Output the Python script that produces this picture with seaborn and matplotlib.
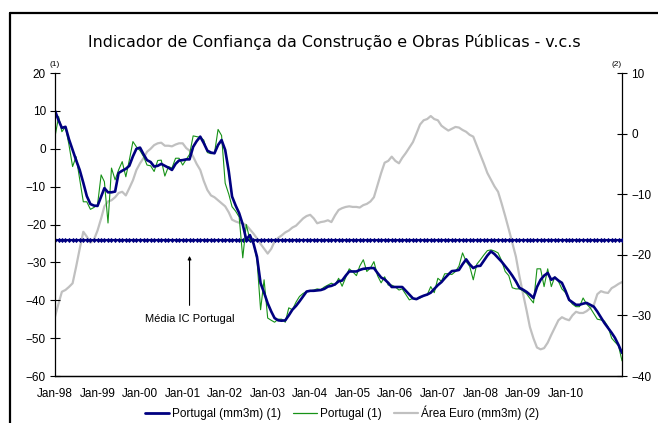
import pandas as pd
import matplotlib.pyplot as plt
from matplotlib.lines import Line2D
import seaborn as sns

sns.set_style('white')
plt.rcParams['font.family'] = ['Liberation Sans', 'DejaVu Sans']
plt.rcParams['text.color'] = 'black'

# monthly data, Jan-98 .. May-11
months = pd.date_range('1998-01-01', periods=161, freq='MS')

# Portugal (1) - raw indicator
pt_raw = [3.2, 8.5, 4.5, 5.8, 1, -4.7, -2.1, -8, -14, -14,
          -16, -15.5, -14.8, -6.9, -8.7, -19.6, -5.1, -8.2, -5.6, -3.4,
          -7.4, -3, 1.9, 0.5, -0.5, -2.1, -4.3, -4.5, -6, -3.1,
          -3, -7.2, -4.7, -5.1, -2.5, -2.5, -4.3, -2.8, -1.5, 3.4,
          3.2, 3, 2.3, -1, -1.3, -1.2, 5.1, 3.5, -9.1, -12,
          -15.3, -16.5, -18, -28.8, -20, -24, -24.9, -29.3, -42.5, -34.6,
          -44.7, -45.3, -45.8, -45, -45, -45.8, -42, -42.5, -40.5, -39,
          -38.2, -37.7, -37.5, -37.3, -37, -37.2, -36.5, -36, -35.5, -36,
          -34.2, -36.3, -34, -31.7, -32.5, -33.5, -31, -29.3, -32.4, -31.5,
          -29.8, -33.5, -35.4, -33.8, -36, -36, -36.5, -37.3, -37, -38.5,
          -39.9, -39.5, -39.7, -39.4, -38.8, -38.6, -36.4, -38, -34.2, -35,
          -33, -33, -33.2, -32.4, -31, -27.5, -29.8, -31, -34.6, -30.5,
          -29.3, -28, -26.9, -26.7, -27, -27.5, -29.5, -32.4, -33.5, -36.7,
          -37, -37, -37.5, -38.3, -39.5, -40.7, -31.7, -31.7, -36.4, -31.7,
          -36.4, -33.8, -35, -37, -38, -39.9, -41, -41.7, -41.7, -39.4,
          -41, -42, -43.5, -45, -45.2, -45.5, -47, -50, -51, -52,
          -56]

# Portugal (mm3m) (1)
pt_mm3m = [10, 7.5, 5.5, 5.8, 2.5, -0.3, -3, -5.6, -9, -12.5,
           -14.6, -15, -15.1, -12.6, -10.4, -11.5, -11.5, -11.3, -6.4, -5.8,
           -5.3, -4.5, -2, 0, 0.3, -1.5, -3, -3.5, -4.7, -4.5,
           -4, -4.5, -5, -5.6, -4, -3.1, -3, -2.8, -2.8, 0.5,
           2, 3.2, 1.5, -0.5, -1, -1.2, 1, 2.3, -0.3, -6,
           -12.6, -15, -17, -20, -24, -22.8, -25, -28.5, -35.5, -38,
           -40.8, -43, -44.7, -45.3, -45.4, -45.3, -44, -42.5, -41.5, -40.3,
           -39, -37.7, -37.5, -37.5, -37.4, -37.3, -37, -36.4, -36.2, -35.8,
           -35, -34.8, -33.5, -32.4, -32.4, -32.4, -32, -31.7, -31.6, -31.5,
           -31.5, -32.8, -34, -34.5, -35.4, -36.5, -36.5, -36.5, -36.5, -37.5,
           -38.5, -39.5, -39.7, -39.2, -38.8, -38.5, -38, -37, -36, -35.2,
           -34.2, -33.2, -32.3, -32.2, -32, -30.5, -29.2, -30.5, -31.5, -31,
           -30.9, -29.5, -28.2, -27.1, -27.8, -28.8, -29.8, -31, -32.2, -33.5,
           -35, -36.7, -37.2, -37.8, -38.5, -39.4, -36.5, -34.6, -33.5, -32.8,
           -34.6, -34, -34.8, -35.4, -37.5, -39.9, -40.5, -41.2, -41.2, -40.9,
           -40.7, -41.2, -41.7, -43, -44.5, -46, -47.3, -48.6, -49.9, -51.8,
           -53.9]

# Área Euro (mm3m) (2) - right axis
euro_mm3m = [-30.2, -28, -26.1, -25.8, -25.3, -24.7, -22, -19, -16.2, -17,
             -18, -17.5, -16, -14, -12, -11.2, -11, -10.5, -9.8, -9.6,
             -10.2, -9, -7.7, -6, -4.9, -4, -3, -2.5, -1.9, -1.6,
             -1.5, -2, -2, -2.1, -1.8, -1.6, -1.6, -2.4, -2.8, -3.8,
             -5, -6, -7.8, -9.3, -10.2, -10.5, -11, -11.5, -12, -13,
             -14.2, -14.5, -14.7, -14.8, -15.1, -15.8, -16.5, -17.3, -18.2, -19,
             -19.8, -19, -17.8, -17.2, -16.8, -16.3, -16, -15.5, -15.2, -14.6,
             -14, -13.6, -13.4, -14, -14.8, -14.6, -14.5, -14.3, -14.6, -13.5,
             -12.6, -12.3, -12.1, -12, -12.1, -12.1, -12.2, -11.8, -11.6, -11.2,
             -10.5, -8.5, -6.5, -4.8, -4.5, -3.8, -4.5, -4.9, -4, -3.2,
             -2.3, -1.4, 0, 1.5, 2.2, 2.4, 2.9, 2.4, 2.2, 1.3,
             0.9, 0.5, 0.8, 1.1, 1, 0.6, 0.3, -0.2, -0.5, -2,
             -3.5, -5, -6.5, -7.6, -8.7, -9.6, -11.5, -13.6, -15.8, -18,
             -20.3, -23.5, -26.4, -29.2, -31.9, -33.8, -35.3, -35.6, -35.4, -34.5,
             -33.2, -32, -30.8, -30.3, -30.6, -30.8, -30, -29.4, -29.6, -29.6,
             -29.3, -28.8, -28.3, -26.5, -26, -26.2, -26.3, -25.5, -25.2, -24.8,
             -24.5]

media_ic = -24.0

tick_years = list(range(1998, 2012))
tick_labels = ['Jan-%02d' % (y % 100) for y in tick_years[:-1]] + ['']

navy = '#000080'
green = '#179217'
grey = '#c0c0c0'

df = pd.DataFrame({'date': months, 'raw': pt_raw, 'mm3m': pt_mm3m,
                   'euro': euro_mm3m, 'media': media_ic})

fig = plt.figure(figsize=(6.58, 4.23), dpi=100)
ax = fig.add_axes([0.0836, 0.1111, 0.8617, 0.7163])
ax2 = ax.twinx()

sns.lineplot(data=df, x='date', y='euro', ax=ax2, color=grey, linewidth=1.6)
sns.lineplot(data=df, x='date', y='media', ax=ax, color=navy, linewidth=1.5,
             marker='D', markersize=2.6, markeredgewidth=0)
sns.lineplot(data=df, x='date', y='raw', ax=ax, color=green, linewidth=0.8)
sns.lineplot(data=df, x='date', y='mm3m', ax=ax, color=navy, linewidth=1.9)

# put the left axis on top of the grey series
ax.set_zorder(ax2.get_zorder() + 1)
ax.patch.set_visible(False)

ax.set_xlim(months[0], months[-1])
ax.set_ylim(-60, 20)
ax.set_yticks(range(-60, 21, 10))
ax2.set_ylim(-40, 10)
ax2.set_yticks(range(-40, 11, 10))
ax.set_xticks([pd.Timestamp(y, 1, 1) for y in tick_years])
ax.set_xticklabels(tick_labels)
ax.set_xlabel('')
ax.set_ylabel('')
ax2.set_ylabel('')

for a in (ax, ax2):
    a.tick_params(axis='both', direction='inout', length=7, width=0.8,
                  labelsize=8.5, colors='black', pad=3)
    a.spines['top'].set_visible(False)
    for s in ('left', 'right', 'bottom'):
        a.spines[s].set_color('black')
        a.spines[s].set_linewidth(0.9)
ax.spines['right'].set_visible(False)
ax2.spines['left'].set_visible(False)
ax.tick_params(axis='x', pad=5)

ax.text(0.0, 1.015, '(1)', transform=ax.transAxes, fontsize=6, ha='center', va='bottom')
ax2.text(1.0, 1.015, '(2)', transform=ax2.transAxes, fontsize=6, ha='right', va='bottom')

ax.annotate('Média IC Portugal', xy=(pd.Timestamp('2001-03-01'), -28.3),
            xytext=(pd.Timestamp('2001-03-01'), -45), ha='center', va='center',
            fontsize=8, arrowprops=dict(arrowstyle='-|>', color='black', lw=0.8,
                                        mutation_scale=5, shrinkA=4, shrinkB=0))

fig.suptitle('Indicador de Confiança da Construção e Obras Públicas - v.c.s',
             x=0.508, y=0.92, fontsize=11.4, color='black', family=['DejaVu Sans'])

handles = [Line2D([], [], color=navy, lw=2),
           Line2D([], [], color=green, lw=0.9),
           Line2D([], [], color=grey, lw=1.6)]
fig.legend(handles, ['Portugal (mm3m) (1)', 'Portugal (1)', 'Área Euro (mm3m) (2)'],
           loc='center', bbox_to_anchor=(0.52, 0.025), ncol=3, frameon=False,
           fontsize=8.5, handlelength=2.0, handletextpad=0.3, columnspacing=1.0)

# outer frame (only left and top edges fall inside the image)
fig.add_artist(Line2D([10 / 658, 10 / 658], [0, 1 - 13 / 423], color='black', lw=1.6,
                      transform=fig.transFigure))
fig.add_artist(Line2D([10 / 658, 1], [1 - 13 / 423, 1 - 13 / 423], color='black', lw=1.6,
                      transform=fig.transFigure))

fig.savefig('out.png', dpi=100)
